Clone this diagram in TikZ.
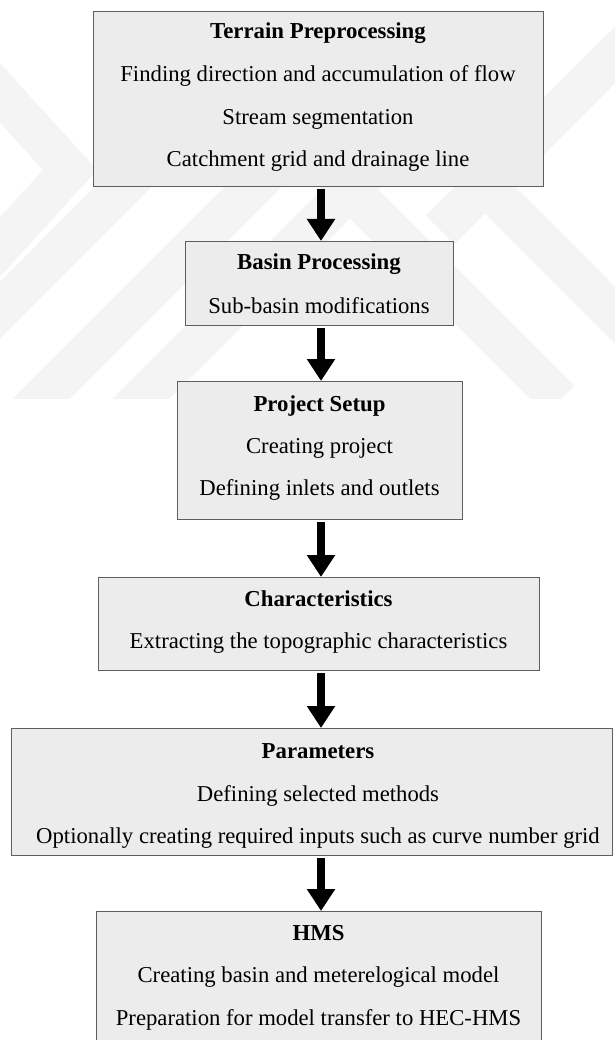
\documentclass[tikz,border=0pt]{standalone}
\usepackage{fontspec}
\setmainfont{Liberation Serif}
\usetikzlibrary{arrows.meta}
\definecolor{boxfill}{HTML}{ECECEC}
\definecolor{boxline}{HTML}{5E5E5E}
\definecolor{wmark}{HTML}{F4F4F4}
\tikzset{
  box/.style={draw=boxline, fill=boxfill, line width=1.3pt, inner sep=0pt, anchor=north west},
  ttl/.style={anchor=base, font=\fontsize{22.8}{27}\selectfont\bfseries, inner sep=0pt},
  txt/.style={anchor=base, font=\fontsize{22.7}{27}\selectfont, inner sep=0pt},
  flowarrow/.style={line width=8.5pt, -{Triangle[width=27pt,length=22pt]}, shorten <=2pt},
  band/.style={wmark, line width=40pt, line cap=butt, line join=miter}
}
\begin{document}
\begin{tikzpicture}[x=1pt,y=-1pt]
\useasboundingbox (0,0) rectangle (615,1040);
\fill[white] (0,0) rectangle (615,1040);
% watermark
\begin{scope}
\clip (0,0) rectangle (615,398);
\draw[band] (-30,60) -- (70,170) -- (-30,280);
\draw[band] (-20,330) -- (200,110);
\draw[band] (20,420) -- (280,160);
\draw[band] (120,420) -- (420,120);
\draw[band] (260,100) -- (560,400);
\draw[band] (400,100) -- (720,420);
\draw[band] (660,10) -- (440,230);
\end{scope}
% boxes
\node[box, minimum width=450pt, minimum height=175pt] (b1) at (93,11) {};
\node[box, minimum width=268pt, minimum height=84pt] (b2) at (185,241) {};
\node[box, minimum width=285pt, minimum height=138pt] (b3) at (177,381) {};
\node[box, minimum width=441pt, minimum height=93pt] (b4) at (98,577) {};
\node[box, minimum width=601pt, minimum height=127pt] (b5) at (11,728) {};
\node[box, minimum width=445pt, minimum height=140pt] (b6) at (96,911) {};
% texts
\node[ttl] (t1) at (318,39) {Terrain Preprocessing};
\node[txt] (t1a) at (318,82) {Finding direction and accumulation of flow};
\node[txt] (t1b) at (318,125) {Stream segmentation};
\node[txt] (t1c) at (318,167) {Catchment grid and drainage line};
\node[ttl] (t2) at (319,270) {Basin Processing};
\node[txt] (t2a) at (319,313) {Sub-basin modifications};
\node[ttl] (t3) at (319.5,411) {Project Setup};
\node[txt] (t3a) at (319.5,453) {Creating project};
\node[txt] (t3b) at (319.5,495) {Defining inlets and outlets};
\node[ttl] (t4) at (318.5,606) {Characteristics};
\node[txt] (t4a) at (318.5,648) {Extracting the topographic characteristics};
\node[ttl] (t5) at (318,758) {Parameters};
\node[txt] (t5a) at (318,801) {Defining selected methods};
\node[txt] (t5b) at (318,843) {Optionally creating required inputs such as curve number grid};
\node[ttl] (t6) at (318.5,940) {HMS};
\node[txt] (t6a) at (318.5,982) {Creating basin and meterelogical model};
\node[txt] (t6b) at (318.5,1025) {Preparation for model transfer to HEC-HMS};
% arrows
\coordinate (ax) at (321,0);
\draw[flowarrow] (b1.south -| ax) -- (b2.north -| ax);
\draw[flowarrow] (b2.south -| ax) -- (b3.north -| ax);
\draw[flowarrow] (b3.south -| ax) -- (b4.north -| ax);
\draw[flowarrow] (b4.south -| ax) -- (b5.north -| ax);
\draw[flowarrow] (b5.south -| ax) -- (b6.north -| ax);
\end{tikzpicture}
\end{document}
